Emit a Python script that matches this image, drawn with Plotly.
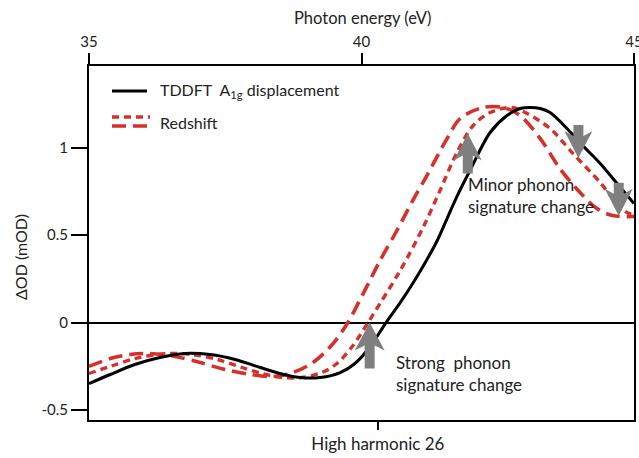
import plotly.graph_objects as go

# Photon energy grid (eV) and differential optical density (mOD) per curve
tddft_ev = [35.00, 35.39, 35.84, 36.30, 36.76, 37.22, 37.68, 38.14, 38.50, 38.87,
            39.24, 39.61, 39.88, 40.16, 40.45, 40.71, 40.94, 41.17, 41.39, 41.57,
            41.75, 41.99, 42.36, 42.67, 42.91, 43.09, 43.28, 43.46, 43.77, 44.06,
            44.38, 44.69, 45.00]
tddft_mod = [-0.349, -0.297, -0.240, -0.200, -0.177, -0.183, -0.211, -0.257, -0.291, -0.314,
             -0.314, -0.286, -0.234, -0.137, 0.000, 0.114, 0.223, 0.343, 0.469, 0.594,
             0.720, 0.869, 1.086, 1.183, 1.223, 1.229, 1.223, 1.200, 1.109, 1.011,
             0.909, 0.794, 0.680]

redshift_small_ev = [35.00, 35.39, 35.84, 36.43, 36.89, 37.35, 37.81, 38.17, 38.54, 38.90,
                     39.27, 39.55, 39.83, 40.12, 40.34, 40.71, 41.13, 41.44, 41.75, 42.05,
                     42.36, 42.76, 43.04, 43.46, 43.88, 44.38, 44.61, 44.87, 45.00]
redshift_small_mod = [-0.291, -0.251, -0.206, -0.177, -0.183, -0.211, -0.257, -0.291, -0.314, -0.314,
                      -0.286, -0.234, -0.137, 0.000, 0.109, 0.297, 0.543, 0.754, 0.971, 1.126,
                      1.200, 1.229, 1.194, 1.109, 0.966, 0.800, 0.709, 0.629, 0.617]

redshift_large_ev = [35.00, 35.39, 35.75, 36.12, 36.58, 37.04, 37.50, 37.96, 38.38, 38.74,
                     39.11, 39.48, 39.75, 40.05, 40.34, 40.65, 40.94, 41.20, 41.39, 41.57,
                     41.81, 42.23, 42.60, 42.91, 43.28, 43.64, 44.01, 44.32, 44.61, 45.00]
redshift_large_mod = [-0.251, -0.206, -0.183, -0.177, -0.194, -0.229, -0.269, -0.297, -0.309, -0.286,
                      -0.229, -0.120, 0.000, 0.177, 0.354, 0.526, 0.697, 0.840, 0.950, 1.051,
                      1.166, 1.229, 1.229, 1.183, 1.051, 0.880, 0.743, 0.651, 0.611, 0.606]

# Axis ticks
energy_ticks = [35, 40, 45]
mod_ticks = [-0.5, 0, 0.5, 1]
mod_tick_text = ["-0.5", "0", "0.5", "1"]
harmonic_order = 26
driver_photon_ev = 1.55
harmonic_ticks = [harmonic_order * driver_photon_ev]
harmonic_labels = ["High harmonic 26"]

# Arrow markers: (energy, mOD at arrow tip, direction)
arrow_marks = [(40.15, 0.0, "up"), (41.95, 1.08, "up"), (43.98, 0.94, "down"), (44.72, 0.61, "down")]

RED = "#d6302a"
GREY = "#7f7f7f"
TEXT = "#222222"
FONT = "Lato"

X_RANGE = [35, 45]
Y_RANGE = [-0.557, 1.466]

fig = go.Figure()

fig.add_trace(go.Scatter(x=redshift_large_ev, y=redshift_large_mod, mode="lines",
                         line=dict(color=RED, width=3.6, dash="14px,7px", shape="spline", smoothing=0.9),
                         showlegend=False, hoverinfo="skip"))
fig.add_trace(go.Scatter(x=redshift_small_ev, y=redshift_small_mod, mode="lines",
                         line=dict(color=RED, width=3.4, dash="7px,5px", shape="spline", smoothing=0.9),
                         showlegend=False, hoverinfo="skip"))
fig.add_trace(go.Scatter(x=tddft_ev, y=tddft_mod, mode="lines",
                         line=dict(color="black", width=3, shape="spline", smoothing=0.9),
                         showlegend=False, hoverinfo="skip"))

# Bottom axis carries the harmonic marker; top axis carries photon energy
fig.add_trace(go.Scatter(x=[35, 45], y=[None, None], xaxis="x2", yaxis="y",
                         showlegend=False, hoverinfo="skip"))

shapes = []
up_path = "M0,0 L15,-28 L5,-23 L5,-46 L-5,-46 L-5,-23 L-15,-28 Z"
up_path_short = "M0,0 L14,-27 L5,-22 L5,-40 L-5,-40 L-5,-22 L-14,-27 Z"
down_path = "M0,0 L14,27 L5,22 L5,33 L-5,33 L-5,22 L-14,27 Z"
for i, (ev, val, direction) in enumerate(arrow_marks):
    if direction == "up":
        path = up_path if i == 0 else up_path_short
    else:
        path = down_path
    shapes.append(dict(type="path", xref="x", yref="y", xsizemode="pixel", ysizemode="pixel",
                       xanchor=ev, yanchor=val, path=path,
                       fillcolor=GREY, line=dict(width=0), layer="above"))

# Legend samples (paper coordinates derived from the plot box)
L, R, T, B = 89, 634, 66, 420


def px(xp):
    return (xp - L) / (R - L)


def py(yp):
    return (B - yp) / (B - T)


shapes.append(dict(type="line", xref="paper", yref="paper", x0=px(112), x1=px(147), y0=py(91), y1=py(91),
                   line=dict(color="black", width=3)))
shapes.append(dict(type="line", xref="paper", yref="paper", x0=px(112), x1=px(150), y0=py(117), y1=py(117),
                   line=dict(color=RED, width=3.4, dash="7px,5px")))
shapes.append(dict(type="line", xref="paper", yref="paper", x0=px(112), x1=px(150), y0=py(126), y1=py(126),
                   line=dict(color=RED, width=3.6, dash="14px,7px")))

annotations = [
    dict(x=px(158), y=py(91), xref="paper", yref="paper", xanchor="left", yanchor="middle",
         text="TDDFT\u00a0\u00a0A<sub>1g</sub> displacement", showarrow=False,
         font=dict(family=FONT, size=16, color=TEXT)),
    dict(x=px(158), y=py(122), xref="paper", yref="paper", xanchor="left", yanchor="middle",
         text="Redshift", showarrow=False, font=dict(family=FONT, size=16, color=TEXT)),
    dict(x=px(394), y=py(373), xref="paper", yref="paper", xanchor="left", yanchor="middle", align="left",
         text="Strong\u00a0\u00a0phonon<br>signature change", showarrow=False,
         font=dict(family=FONT, size=17, color=TEXT)),
    dict(x=px(466), y=py(195), xref="paper", yref="paper", xanchor="left", yanchor="middle", align="left",
         text="Minor phonon<br>signature change", showarrow=False,
         font=dict(family=FONT, size=17, color=TEXT)),
    dict(x=px(20), y=py(257), xref="paper", yref="paper", xanchor="center", yanchor="middle",
         text="\u0394OD (mOD)", textangle=-90, showarrow=False,
         font=dict(family=FONT, size=16, color=TEXT)),
    dict(x=px(362), y=py(18), xref="paper", yref="paper", xanchor="center", yanchor="middle",
         text="Photon energy (eV)", showarrow=False,
         font=dict(family=FONT, size=16.5, color=TEXT)),
]

fig.update_layout(
    width=639, height=458,
    margin=dict(l=L, r=639 - R, t=T, b=458 - B, autoexpand=False),
    paper_bgcolor="white", plot_bgcolor="white",
    font=dict(family=FONT, size=15, color=TEXT),
    xaxis=dict(range=X_RANGE, tickmode="array", tickvals=harmonic_ticks, ticktext=harmonic_labels,
               ticks="outside", ticklen=8, tickwidth=1.5, tickcolor="black", automargin=False,
               showline=True, linecolor="black", linewidth=2, showgrid=False, zeroline=False,
               tickfont=dict(family=FONT, size=17, color=TEXT)),
    xaxis2=dict(range=X_RANGE, overlaying="x", side="top", anchor="y", tickmode="array",
                tickvals=energy_ticks, ticks="outside", ticklen=11, tickwidth=1.5, tickcolor="black",
                showline=True, linecolor="black", linewidth=2, showgrid=False, zeroline=False,
                ticklabeloverflow="allow", automargin=False,
                tickfont=dict(family=FONT, size=15, color=TEXT)),
    yaxis=dict(range=Y_RANGE, tickmode="array", tickvals=mod_ticks, ticktext=mod_tick_text,
               ticks="outside", ticklen=16, tickwidth=1.5, tickcolor="black", automargin=False,
               showline=True, mirror=True, linecolor="black", linewidth=2, showgrid=False,
               zeroline=True, zerolinecolor="black", zerolinewidth=1.5,
               tickfont=dict(family=FONT, size=15, color=TEXT)),
    shapes=shapes,
    annotations=annotations,
    showlegend=False,
)

fig.write_html("out.html")
